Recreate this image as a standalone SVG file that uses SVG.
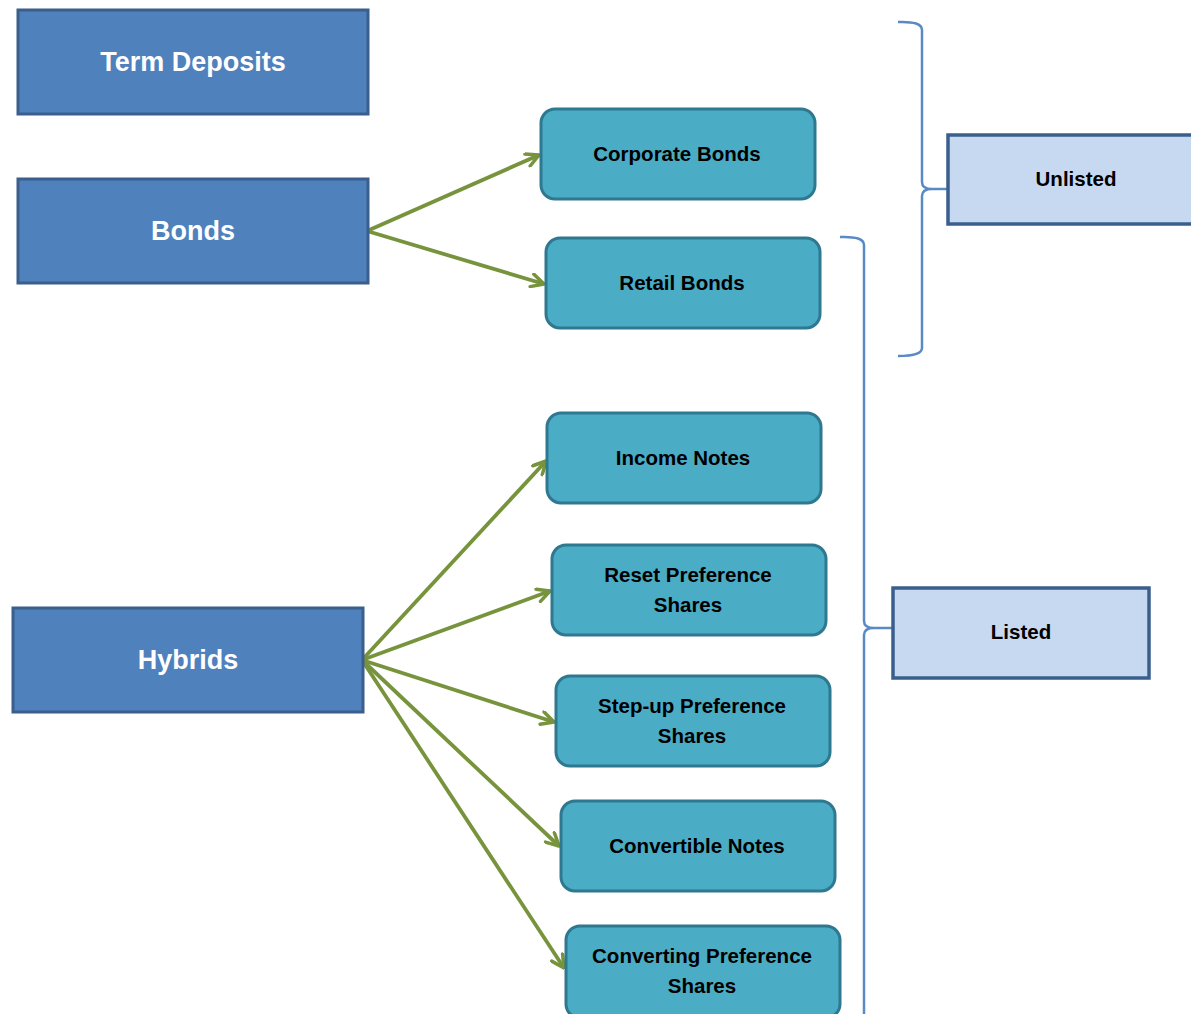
<svg xmlns="http://www.w3.org/2000/svg" width="1191" height="1014" viewBox="0 0 1191 1014">
<style>
.main{fill:#4f81bd;stroke:#3a5f8c;stroke-width:3}
.child{fill:#4bacc6;stroke:#2e7890;stroke-width:3}
.tag{fill:#c6d9f1;stroke:#3a5f8c;stroke-width:3.5}
.mt{font-family:"Liberation Sans",Arial,sans-serif;font-weight:bold;font-size:27px;fill:#ffffff;text-anchor:middle}
.ct{font-family:"Liberation Sans",Arial,sans-serif;font-weight:bold;font-size:20.5px;fill:#000000;text-anchor:middle}
.arrow{fill:none;stroke:#77933c;stroke-width:3.8;marker-end:url(#ah)}
.brace{fill:none;stroke:#5a8ac6;stroke-width:2.5}
</style>
<defs>
<marker id="ah" viewBox="0 0 16 16" refX="14.5" refY="8" markerWidth="16" markerHeight="16" markerUnits="userSpaceOnUse" orient="auto">
<path d="M2,1.5 L14.5,8 L2,14.5" fill="none" stroke="#77933c" stroke-width="3.5" stroke-linecap="round" stroke-linejoin="round"/>
</marker>
</defs>
<rect width="1191" height="1014" fill="#ffffff"/>
<g id="connectors">
<line class="arrow" x1="367" y1="231" x2="539" y2="155"/>
<line class="arrow" x1="367" y1="231" x2="544" y2="284"/>
<line class="arrow" x1="362" y1="660" x2="546" y2="461"/>
<line class="arrow" x1="362" y1="660" x2="550" y2="591"/>
<line class="arrow" x1="362" y1="660" x2="554" y2="722"/>
<line class="arrow" x1="362" y1="660" x2="559" y2="846"/>
<line class="arrow" x1="362" y1="660" x2="564" y2="968"/>
</g>
<g id="brace-unlisted">
<path class="brace" d="M898,22 Q922,21 922,30 L922,182 Q922,189 932,189 L948,189 M932,189 Q922,189 922,196 L922,348 Q922,356 898,356"/>
</g>
<g id="brace-listed">
<path class="brace" d="M840,237 Q864,236 864,245 L864,621 Q864,628 874,628 L893,628 M874,628 Q864,628 864,635 L864,1014"/>
</g>
<g id="term-deposits">
<rect class="main" x="18" y="10" width="350" height="104"/>
<text class="mt" x="193" y="71">Term Deposits</text>
</g>
<g id="bonds">
<rect class="main" x="18" y="179" width="350" height="104"/>
<text class="mt" x="193" y="240">Bonds</text>
</g>
<g id="hybrids">
<rect class="main" x="13" y="608" width="350" height="104"/>
<text class="mt" x="188" y="669">Hybrids</text>
</g>
<g id="corporate-bonds">
<rect class="child" x="541" y="109" width="274" height="90" rx="14"/>
<text class="ct" x="677" y="161">Corporate Bonds</text>
</g>
<g id="retail-bonds">
<rect class="child" x="546" y="238" width="274" height="90" rx="14"/>
<text class="ct" x="682" y="290">Retail Bonds</text>
</g>
<g id="income-notes">
<rect class="child" x="547" y="413" width="274" height="90" rx="14"/>
<text class="ct" x="683" y="465">Income Notes</text>
</g>
<g id="reset-preference-shares">
<rect class="child" x="552" y="545" width="274" height="90" rx="14"/>
<text class="ct" x="688" y="582">Reset Preference</text>
<text class="ct" x="688" y="612">Shares</text>
</g>
<g id="step-up-preference-shares">
<rect class="child" x="556" y="676" width="274" height="90" rx="14"/>
<text class="ct" x="692" y="713">Step-up Preference</text>
<text class="ct" x="692" y="743">Shares</text>
</g>
<g id="convertible-notes">
<rect class="child" x="561" y="801" width="274" height="90" rx="14"/>
<text class="ct" x="697" y="853">Convertible Notes</text>
</g>
<g id="converting-preference-shares">
<rect class="child" x="566" y="926" width="274" height="92" rx="14"/>
<text class="ct" x="702" y="963">Converting Preference</text>
<text class="ct" x="702" y="993">Shares</text>
</g>
<g id="unlisted">
<rect class="tag" x="948" y="135" width="260" height="89"/>
<text class="ct" x="1076" y="186">Unlisted</text>
</g>
<g id="listed">
<rect class="tag" x="893" y="588" width="256" height="90"/>
<text class="ct" x="1021" y="639">Listed</text>
</g>
</svg>
